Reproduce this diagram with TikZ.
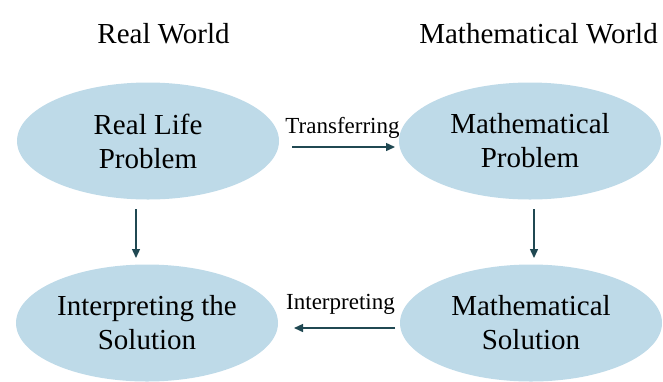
\documentclass[tikz,border=0pt]{standalone}
\usepackage{fontspec}
\setmainfont{Liberation Serif}
\usetikzlibrary{arrows.meta,shapes.geometric}
\definecolor{ellfill}{RGB}{190,218,232}
\definecolor{arrcol}{RGB}{32,72,82}
\tikzset{
  oval/.style={ellipse, fill=ellfill, minimum width=262pt, minimum height=117pt, inner sep=0pt, align=center, font=\fontsize{29}{34}\selectfont},
  title/.style={font=\fontsize{29}{34}\selectfont, anchor=base, inner sep=0pt},
  lbl/.style={font=\fontsize{23}{26}\selectfont, anchor=base, inner sep=0pt},
  conn/.style={draw=arrcol, line width=1.4pt, -{Triangle[length=9pt,width=8pt]}}
}
\begin{document}
\begin{tikzpicture}[x=1pt,y=-1pt]
\useasboundingbox (0,0) rectangle (663,381);
\node[title] (rw) at (163.5,43) {Real World};
\node[title] (mw) at (538.5,43) {Mathematical World};
\node[oval] (rlp) at (148,141) {Real Life\\Problem};
\node[oval] (mp) at (530,141) {Mathematical\\Problem};
\node[oval] (its) at (147,323) {Interpreting the\\Solution};
\node[oval] (ms) at (531,323) {Mathematical\\Solution};
\coordinate (t1) at (292,147);
\coordinate (t2) at (395,147);
\draw[conn] (t1) -- (t2);
\node[lbl] (tl) at (342.5,133) {Transferring};
\coordinate (i1) at (395,328);
\coordinate (i2) at (294,328);
\draw[conn] (i1) -- (i2);
\node[lbl] (il) at (340.5,309) {Interpreting};
\coordinate (d1) at (136,209);
\coordinate (d2) at (136,258);
\draw[conn] (d1) -- (d2);
\coordinate (e1) at (534,209);
\coordinate (e2) at (534,258);
\draw[conn] (e1) -- (e2);
\end{tikzpicture}
\end{document}
